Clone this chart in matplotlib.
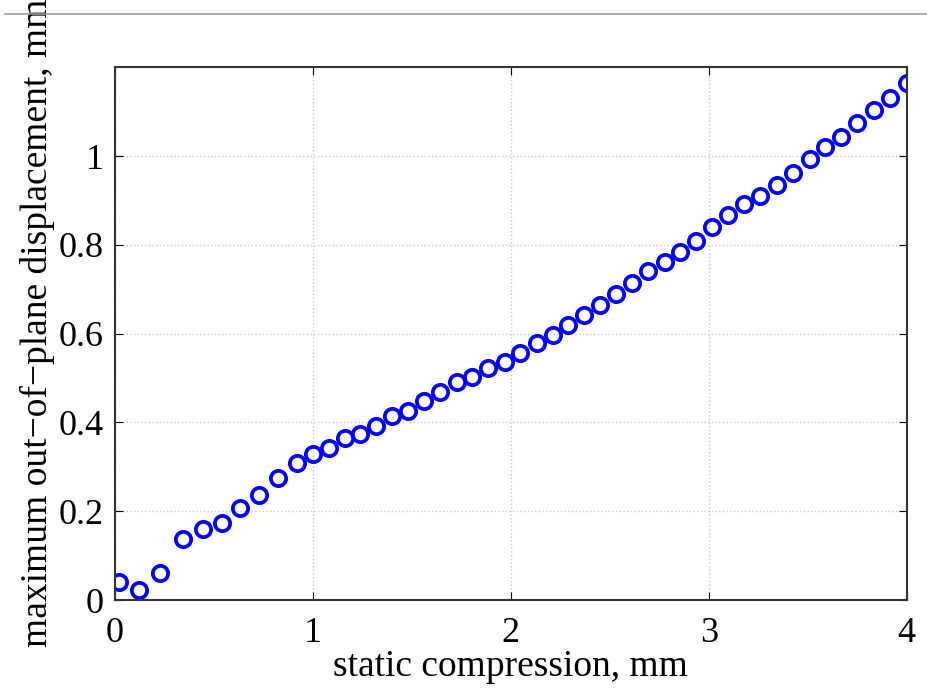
import numpy as np
import matplotlib.pyplot as plt
from matplotlib.lines import Line2D

# values
compression = [0.022, 0.123, 0.227, 0.345, 0.446, 0.539, 0.631, 0.729, 0.825, 0.921,
               1.002, 1.08, 1.16, 1.24, 1.32, 1.40, 1.48, 1.56, 1.64, 1.726,
               1.806, 1.886, 1.97, 2.049, 2.13, 2.214, 2.29, 2.369, 2.453, 2.53,
               2.613, 2.693, 2.778, 2.857, 2.938, 3.017, 3.098, 3.178, 3.261, 3.345,
               3.426, 3.51, 3.59, 3.67, 3.749, 3.833, 3.918, 4.0]
displacement = [0.041, 0.023, 0.060, 0.137, 0.160, 0.174, 0.207, 0.236, 0.274, 0.308,
                0.329, 0.342, 0.364, 0.375, 0.392, 0.414, 0.425, 0.449, 0.469, 0.492,
                0.502, 0.522, 0.537, 0.556, 0.580, 0.597, 0.619, 0.642, 0.664, 0.689,
                0.713, 0.741, 0.762, 0.785, 0.809, 0.841, 0.867, 0.893, 0.910, 0.935,
                0.961, 0.993, 1.021, 1.042, 1.075, 1.104, 1.130, 1.164]

xticks = [0, 1, 2, 3, 4]
yticks = [0, 0.2, 0.4, 0.6, 0.8, 1]
yticklabels = ['0', '0.2', '0.4', '0.6', '0.8', '1']

plt.rcParams['font.family'] = ['Liberation Serif', 'DejaVu Serif']

fig = plt.figure(figsize=(9.27, 6.93), dpi=100)
ax = fig.add_axes([0.124, 0.134, 0.854, 0.769])

ax.plot(compression, displacement, 'o', markerfacecolor='none',
        markeredgecolor='#0000ff', markersize=11, markeredgewidth=2.7)

ax.set_xlim(0, 4)
ax.set_ylim(0, 1.2)
ax.set_xticks(xticks)
ax.set_yticks(yticks)
ax.set_yticklabels(yticklabels)
ax.grid(True, linestyle=':', color='#c8c8c8', linewidth=1.0)
ax.tick_params(axis='both', which='major', labelsize=26, direction='in',
               top=True, right=True, length=6)
ax.tick_params(axis='x', pad=12)
ax.tick_params(axis='y', pad=8)
for s in ax.spines.values():
    s.set_linewidth(1.5)
    s.set_color('#333333')

ax.set_xlabel('static compression, mm', fontsize=27, labelpad=0)
ax.set_ylabel('maximum out\u2212of\u2212plane displacement, mm', fontsize=27, labelpad=0)
ax.yaxis.set_label_coords(-0.076, 0.52)

# thin gray rule across the top of the page
fig.add_artist(Line2D([0.005, 1.0], [1 - 14 / 693, 1 - 14 / 693],
                      transform=fig.transFigure, color='#999999', linewidth=1.2))

fig.savefig('out.png', dpi=100)
